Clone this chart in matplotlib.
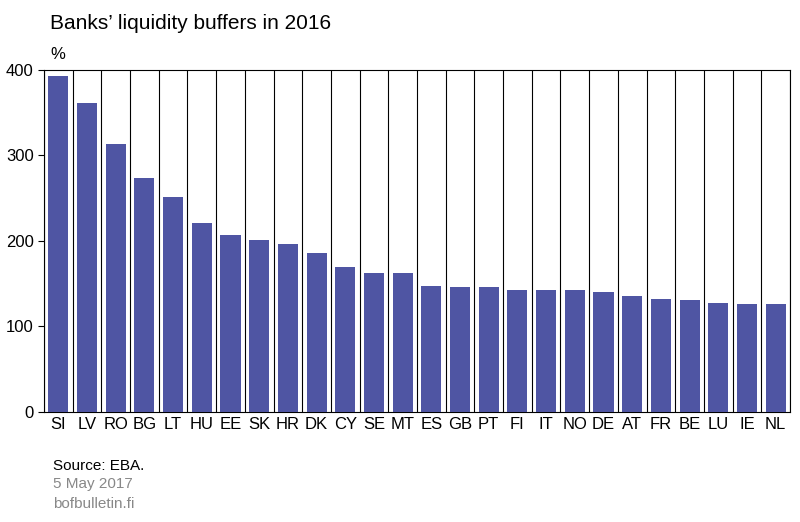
import matplotlib.pyplot as plt
import numpy as np

countries = ["SI", "LV", "RO", "BG", "LT", "HU", "EE", "SK", "HR", "DK", "CY", "SE", "MT",
             "ES", "GB", "PT", "FI", "IT", "NO", "DE", "AT", "FR", "BE", "LU", "IE", "NL"]
buffers = [393, 361, 313, 274, 251, 221, 207, 201, 196, 186, 170, 163, 162,
           147, 146, 146, 143, 143, 142, 140, 136, 132, 131, 127, 126, 126]

plt.rcParams['font.family'] = ['Liberation Sans', 'DejaVu Sans']

fig = plt.figure(figsize=(8, 5.22), dpi=100)
ax = fig.add_axes([0.055, 0.211, 0.9325, 0.655])

x = np.arange(len(countries))
ax.bar(x, buffers, width=0.7, color='#4f55a3', zorder=3)

# vertical separators between categories
for b in np.arange(len(countries) + 1) - 0.5:
    ax.axvline(b, color='black', lw=0.8, zorder=1)

ax.set_xlim(-0.5, len(countries) - 0.5)
ax.set_ylim(0, 400)
ax.set_yticks([0, 100, 200, 300, 400])
ax.set_xticks(x)
ax.set_xticklabels(countries)
ax.tick_params(axis='both', labelsize=12, length=0)
ax.tick_params(axis='y', direction='out', length=4)
for s in ax.spines.values():
    s.set_linewidth(0.8)

fig.text(0.063, 0.955, "Banks’ liquidity buffers in 2016", fontsize=15, va='center')
fig.text(0.063, 0.895, "%", fontsize=12, va='center')
fig.text(0.066, 0.108, "Source: EBA.", fontsize=11, va='center')
fig.text(0.066, 0.072, "5 May 2017", fontsize=11, va='center', color='#888888')
fig.text(0.066, 0.035, "bofbulletin.fi", fontsize=11, va='center', color='#888888')

fig.savefig("out.png", dpi=100)
